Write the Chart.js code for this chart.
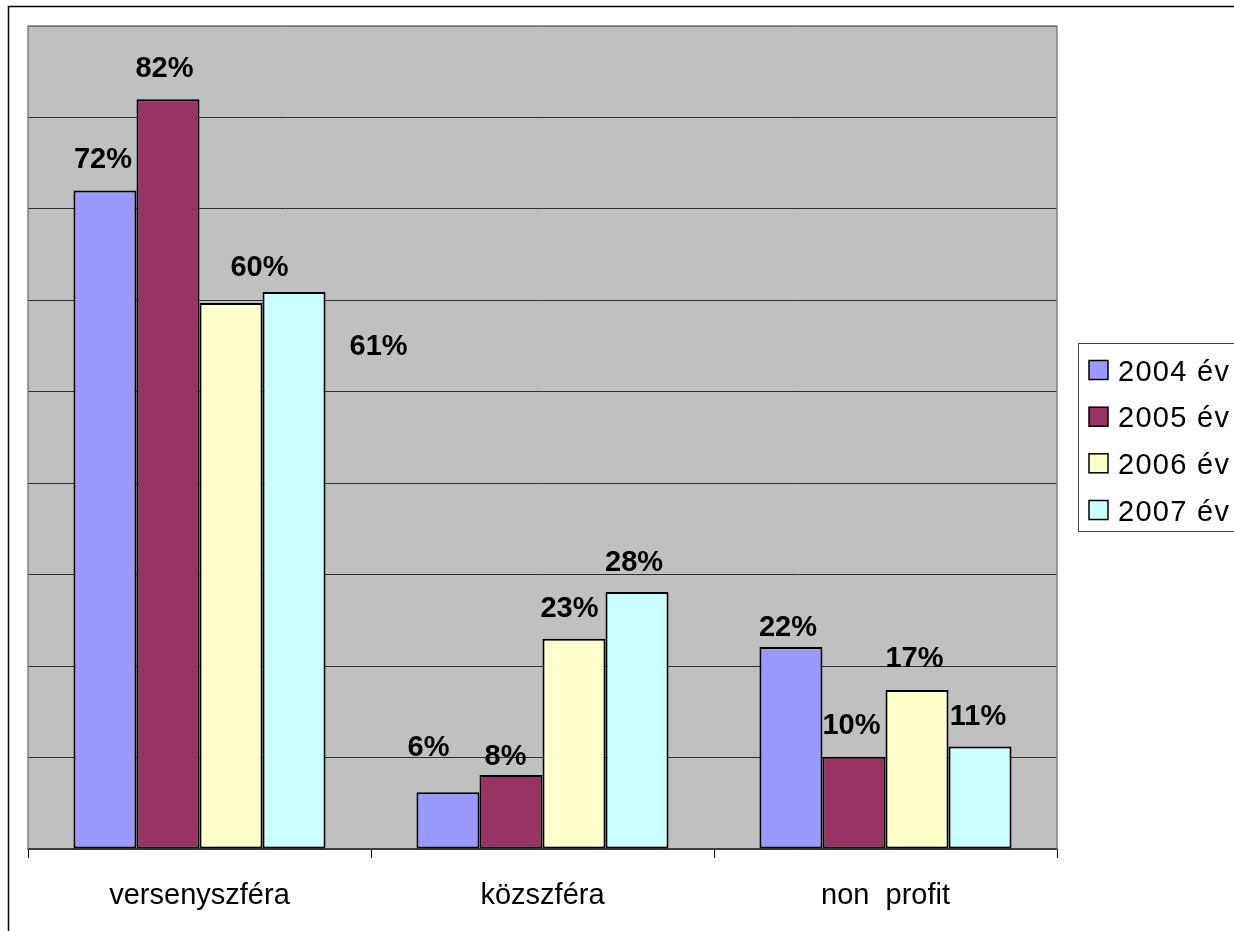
<!DOCTYPE html>
<html>
<head>
<meta charset="utf-8">
<script src="https://cdn.jsdelivr.net/npm/chart.js@4/dist/chart.umd.min.js"></script>
<style>
  html, body { margin: 0; padding: 0; background: #ffffff; overflow: hidden; }
  #wrap { width: 1234px; height: 931px; position: relative; }
</style>
</head>
<body>
<div id="wrap"><canvas id="c" width="1234" height="931"></canvas></div>
<script>
// ---- data ----
const categories = ['versenyszféra', 'közszféra', 'non  profit'];
const seriesLabels = ['2004 év', '2005 év', '2006 év', '2007 év'];
const values2004 = [0.72, 0.062, 0.221];
const values2005 = [0.82, 0.081, 0.101];
const values2006 = [0.597, 0.23, 0.174];
const values2007 = [0.609, 0.281, 0.112];
const yMax = 0.9;
const yStep = 0.1;

// ---- styles ----
const FONT = '"Liberation Sans", Arial, Helvetica, sans-serif';
const seriesColors = ['#9999ff', '#993366', '#ffffcc', '#ccffff'];
// label placement tweaks (dx, dy of label centre relative to bar top centre)
const labelOffsets = [
  [[-2, -33], [-19.5, -46.5], [-3, -21]],
  [[-3.5, -33], [-5.5, -20], [-2.5, -33]],
  [[28.5, -37.5], [-4.5, -32], [-2.5, -33]],
  [[84.5, 52], [-3, -32], [-2, -32.5]]
];

const allValues = [values2004, values2005, values2006, values2007];

const plotBg = {
  id: 'plotBg',
  beforeDraw(chart) {
    const { ctx, chartArea: a } = chart;
    ctx.save();
    // outer chart border
    ctx.strokeStyle = '#000000';
    ctx.lineWidth = 1.5;
    ctx.strokeRect(8.5, 6.5, 1300, 1000);
    ctx.fillStyle = '#c0c0c0';
    ctx.fillRect(a.left, a.top, a.right - a.left, a.bottom - a.top);
    ctx.restore();
  },
  afterDraw(chart) {
    const { ctx, chartArea: a } = chart;
    ctx.save();
    ctx.strokeStyle = '#808080';
    ctx.lineWidth = 1.5;
    ctx.beginPath();
    ctx.moveTo(a.left, a.bottom);
    ctx.lineTo(a.left, a.top);
    ctx.lineTo(a.right, a.top);
    ctx.lineTo(a.right, a.bottom);
    ctx.stroke();

    // data labels
    ctx.fillStyle = '#000000';
    ctx.font = 'bold 29px ' + FONT;
    ctx.textAlign = 'center';
    ctx.textBaseline = 'alphabetic';
    chart.data.datasets.forEach((ds, di) => {
      const meta = chart.getDatasetMeta(di);
      meta.data.forEach((bar, i) => {
        const off = labelOffsets[di][i];
        const txt = Math.round(ds.data[i] * 100) + '%';
        ctx.fillText(txt, bar.x + off[0], bar.y + off[1] + 10.5);
      });
    });

    // legend
    const lx = 1078, ly = 343, lh = 188;
    ctx.strokeStyle = '#404040';
    ctx.lineWidth = 1;
    ctx.strokeRect(lx + 0.5, ly + 0.5, 300, lh);
    ctx.font = '29px ' + FONT;
    ctx.textAlign = 'left';
    try { ctx.letterSpacing = '1.3px'; } catch (e) {}
    const rows = [370, 416.7, 463.3, 510];
    chart.data.datasets.forEach((ds, di) => {
      const cy = rows[di];
      ctx.fillStyle = ds.backgroundColor;
      ctx.fillRect(1089, cy - 9.5, 19, 19);
      ctx.strokeStyle = '#000000';
      ctx.lineWidth = 1.5;
      ctx.strokeRect(1089, cy - 9.5, 19, 19);
      ctx.fillStyle = '#000000';
      ctx.fillText(ds.label, 1118, cy + 10.5);
    });
    ctx.restore();
  }
};

new Chart(document.getElementById('c'), {
  type: 'bar',
  data: {
    labels: categories,
    datasets: seriesLabels.map((lab, i) => ({
      label: lab,
      data: allValues[i],
      backgroundColor: seriesColors[i],
      borderColor: '#000000',
      borderWidth: 2,
      borderSkipped: false,
      categoryPercentage: 0.735,
      barPercentage: 1.0
    }))
  },
  options: {
    responsive: false,
    animation: false,
    devicePixelRatio: 1,
    layout: { padding: { left: 28, top: 26, right: 177, bottom: 0 } },
    plugins: { legend: { display: false }, tooltip: { enabled: false } },
    scales: {
      x: {
        afterFit(scale) { scale.height = 82; },
        grid: { drawOnChartArea: false, drawTicks: true, tickLength: 9, color: '#000000', offset: true },
        border: { display: true, color: '#404040', width: 1.5 },
        ticks: { color: '#000000', font: { family: FONT, size: 29 }, padding: 21, maxRotation: 0 }
      },
      y: {
        min: 0,
        max: yMax,
        ticks: { display: false, stepSize: yStep },
        grid: { color: '#303030', lineWidth: 1, drawTicks: false },
        border: { display: false }
      }
    }
  },
  plugins: [plotBg]
});
</script>
</body>
</html>
